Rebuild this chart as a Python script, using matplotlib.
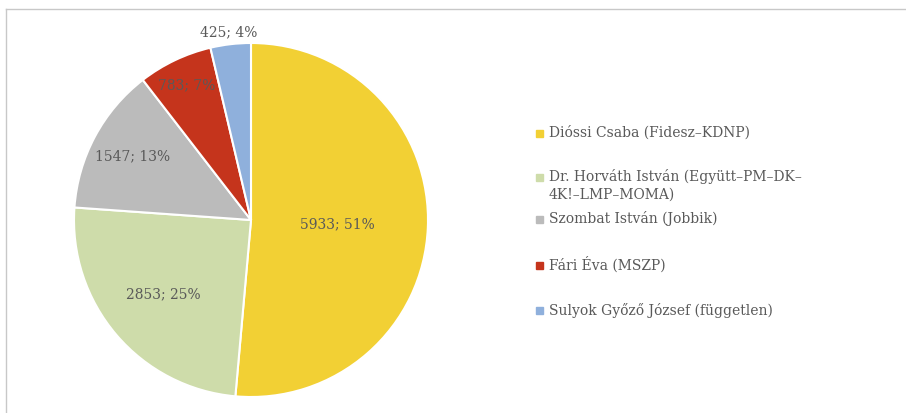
import matplotlib.pyplot as plt
from matplotlib.patches import Rectangle
import numpy as np

names = ["Dióssi Csaba (Fidesz–KDNP)",
         "Dr. Horváth István (Együtt–PM–DK–\n4K!–LMP–MOMA)",
         "Szombat István (Jobbik)",
         "Fári Éva (MSZP)",
         "Sulyok Győző József (független)"]
votes = [5933, 2853, 1547, 783, 425]
colors = ["#F2D034", "#CEDCAA", "#BBBBBB", "#C5341C", "#8FB0DC"]

# label distance from centre (fraction of radius), per slice
label_dist = [0.49, 0.65, 0.76, 0.84, 1.07]
# legend first-line rows (pixels from top)
legend_y = [133, 177, 219, 265, 310]

txt_color = "#595959"
font = "DejaVu Serif"

fig = plt.figure(figsize=(9.06, 4.13), dpi=100)
ax = fig.add_axes([0, 0, 1, 1])

cx, cy, r = 251, 413 - 220, 177
wedges, _ = ax.pie(votes, colors=colors, startangle=90, counterclock=False,
                   center=(cx, cy), radius=r, frame=True,
                   wedgeprops=dict(edgecolor="white", linewidth=1.5))
ax.set_xlim(0, 906)
ax.set_ylim(0, 413)
ax.set_aspect("equal")
ax.axis("off")

total = sum(votes)
for w, v, d in zip(wedges, votes, label_dist):
    ang = np.deg2rad((w.theta1 + w.theta2) / 2)
    x = cx + d * r * np.cos(ang)
    y = cy + d * r * np.sin(ang)
    ax.text(x, y, f"{v}; {round(100 * v / total)}%", ha="center", va="center",
            fontsize=10, color=txt_color, family=font)

for name, c, y in zip(names, colors, legend_y):
    yy = 413 - y
    ax.add_patch(Rectangle((536, yy - 4), 7, 7, color=c))
    for i, line in enumerate(name.split("\n")):
        ax.text(549, yy - 18 * i, line, ha="left", va="center", fontsize=10,
                color=txt_color, family=font)

# chart border (only top and left visible)
ax.plot([6, 906], [413 - 9, 413 - 9], color="#C8C8C8", lw=1, clip_on=False)
ax.plot([6, 6], [413 - 9, 0], color="#C8C8C8", lw=1, clip_on=False)

fig.savefig("out.png", dpi=100)
